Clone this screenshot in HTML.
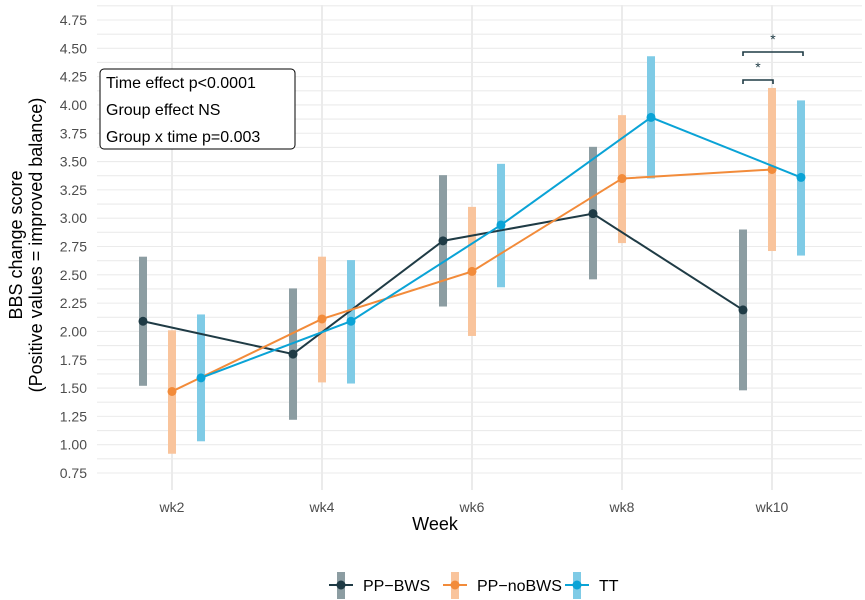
<!DOCTYPE html>
<html><head><meta charset="utf-8"><style>
body{margin:0;background:#fff;font-family:"Liberation Sans",Arial,sans-serif}
svg{display:block}
</style></head><body>
<svg id="chart" width="865" height="600" viewBox="0 0 865 600">
<g id="grid"></g>
<g id="yticks"></g>
<g id="xticks"></g>
<g id="marks"></g>
<text x="435" y="530" font-size="18" text-anchor="middle" fill="#000">Week</text>
<g transform="translate(22,245) rotate(-90)">
<text x="0" y="0" font-size="18" text-anchor="middle" fill="#000">BBS change score</text>
<text x="0" y="20" font-size="18" text-anchor="middle" fill="#000">(Positive values = improved balance)</text>
</g>
<g>
<rect x="100" y="69" width="195" height="80" rx="4" fill="#fff" stroke="#000" stroke-width="1"/>
<text x="106" y="88" font-size="16" fill="#000">Time effect p&lt;0.0001</text>
<text x="106" y="115" font-size="16" fill="#000">Group effect NS</text>
<text x="106" y="142" font-size="16" fill="#000">Group x time p=0.003</text>
</g>
<g stroke="#1f3b45" stroke-width="1.6" fill="none">
<path d="M743 56 V52 H803 V56"/>
<path d="M743 84 V80 H773 V84"/>
</g>
<text x="773" y="44" font-size="14" text-anchor="middle" fill="#1f3b45">*</text>
<text x="758" y="72" font-size="14" text-anchor="middle" fill="#1f3b45">*</text>
<g id="legend"></g>
</svg>
<script>
const weeks=["wk2","wk4","wk6","wk8","wk10"];
const yTicks=[0.75,1.00,1.25,1.50,1.75,2.00,2.25,2.50,2.75,3.00,3.25,3.50,3.75,4.00,4.25,4.50,4.75];
const seriesNames=["PP\u2212BWS","PP\u2212noBWS","TT"];
const ppbwsMean=[2.09,1.80,2.80,3.04,2.19];
const ppbwsLo=[1.52,1.22,2.22,2.46,1.48];
const ppbwsHi=[2.66,2.38,3.38,3.63,2.90];
const ppnoMean=[1.47,2.11,2.53,3.35,3.43];
const ppnoLo=[0.92,1.55,1.96,2.78,2.71];
const ppnoHi=[2.01,2.66,3.10,3.91,4.15];
const ttMean=[1.59,2.09,2.94,3.89,3.36];
const ttLo=[1.03,1.54,2.39,3.35,2.67];
const ttHi=[2.15,2.63,3.48,4.43,4.04];

const NS="http://www.w3.org/2000/svg";
const y=v=>20+(4.75-v)*113.25;
const x=i=>172+i*150;
const L=97,R=862;
function mk(t,a,p){const e=document.createElementNS(NS,t);for(const k in a)e.setAttribute(k,a[k]);p.appendChild(e);return e;}
const grid=document.getElementById('grid');
for(let v=0.75;v<=4.876;v+=0.125){
  const gl=mk('line',{x1:L,x2:R,y1:y(v),y2:y(v),stroke:'#ebebeb','stroke-width':1.1},grid);
  
  
}
weeks.forEach((w,i)=>{
  const gl=mk('line',{x1:x(i),x2:x(i),y1:5,y2:490,stroke:'#ebebeb','stroke-width':2},grid);
  
  
  const t=mk('text',{x:x(i),y:512,'font-size':14,'text-anchor':'middle',fill:'#4d4d4d'},document.getElementById('xticks'));
  t.textContent=w;
  
  
});
yTicks.forEach(v=>{
  const t=mk('text',{x:87,y:y(v)+5,'font-size':14,'text-anchor':'end',fill:'#4d4d4d'},document.getElementById('yticks'));
  t.textContent=v.toFixed(2);
  
  
});
const series=[
 {m:ppbwsMean,lo:ppbwsLo,hi:ppbwsHi,c:'#1f3b45',bar:'#8c9da2',off:-29},
 {m:ppnoMean,lo:ppnoLo,hi:ppnoHi,c:'#f28b3a',bar:'#f9c49c',off:0},
 {m:ttMean,lo:ttLo,hi:ttHi,c:'#0aa3d6',bar:'#7fcbe6',off:29}];
const marks=document.getElementById('marks');
series.forEach((s,k)=>{
  s.m.forEach((v,i)=>{
    const b=mk('rect',{x:x(i)+s.off-4,y:y(s.hi[i]),width:8,height:y(s.lo[i])-y(s.hi[i]),fill:s.bar},marks);
    
    
  });
});
series.forEach((s,k)=>{
  const pts=s.m.map((v,i)=>(x(i)+s.off)+','+y(v)).join(' ');
  const pl=mk('polyline',{points:pts,fill:'none',stroke:s.c,'stroke-width':2},marks);
  
  
  s.m.forEach((v,i)=>{
    const c=mk('circle',{cx:x(i)+s.off,cy:y(v),r:4.5,fill:s.c},marks);
    
    
  });
});
const lg=document.getElementById('legend');
const lx=[341,455,577];
series.forEach((s,k)=>{
  const g=mk('g',{},lg);
  
  
  mk('rect',{x:lx[k]-4,y:572,width:8,height:27,fill:s.bar},g);
  mk('line',{x1:lx[k]-12,x2:lx[k]+12,y1:585,y2:585,stroke:s.c,'stroke-width':2},g);
  mk('circle',{cx:lx[k],cy:585,r:4.5,fill:s.c},g);
  const t=mk('text',{x:lx[k]+22,y:591,'font-size':16,fill:'#000'},g);
  t.textContent=seriesNames[k];
});
</script>
</body></html>
